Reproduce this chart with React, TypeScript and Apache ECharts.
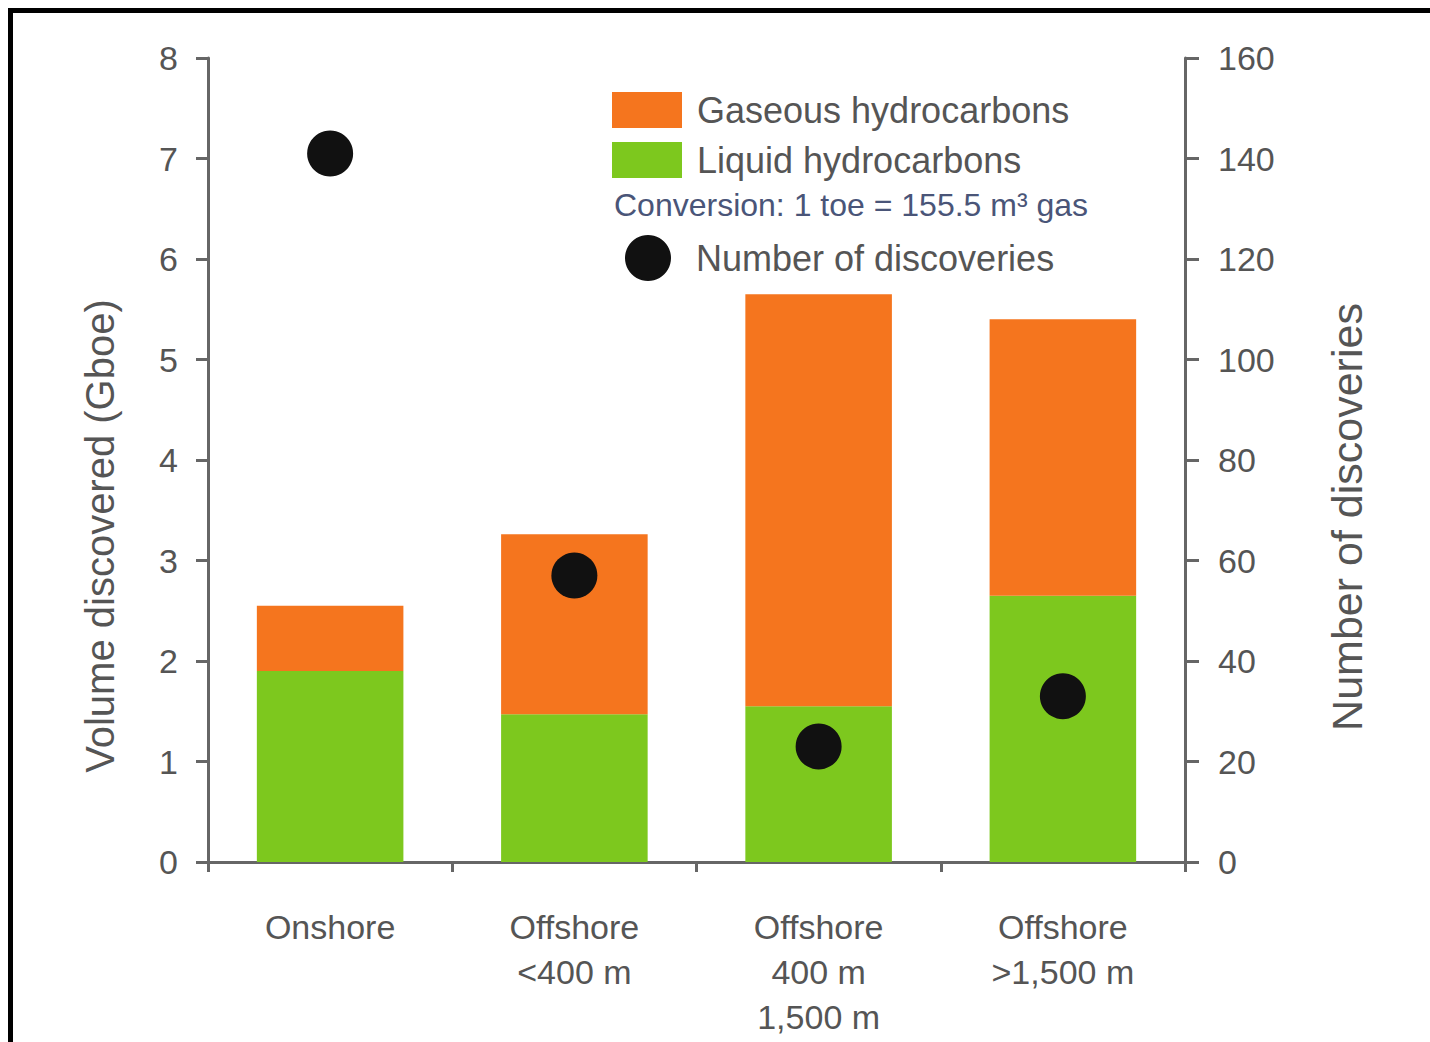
import React, { useEffect, useRef } from "react";
import * as echarts from "echarts";

const categories = ["Onshore", "Offshore\n<400 m", "Offshore\n400 m\n1,500 m", "Offshore\n>1,500 m"];
const liquidValues = [1.9, 1.47, 1.55, 2.65];
const gasValues = [0.65, 1.79, 4.1, 2.75];
const discoveries = [141, 57, 23, 33];
const leftTicks = { min: 0, max: 8, interval: 1 };
const rightTicks = { min: 0, max: 160, interval: 20 };

const FONT = "Liberation Sans, Arial, sans-serif";
const TEXT = "#555";
const AXIS = "#666";

export default function App() {
  const ref = useRef<HTMLDivElement>(null);
  useEffect(() => {
    if (!ref.current) return;
    const chart = echarts.init(ref.current, undefined, { renderer: "svg" });
    chart.setOption({
      animation: false,
      backgroundColor: "#fff",
      textStyle: { fontFamily: FONT },
      graphic: [
        {
          type: "rect",
          shape: { x: 10.5, y: 10.5, width: 1600, height: 1200 },
          style: { fill: "none", stroke: "#000", lineWidth: 5 },
          silent: true,
        },
        {
          type: "text",
          left: 614,
          top: 189,
          style: {
            text: "Conversion: 1 toe = 155.5 m³ gas",
            fontSize: 32,
            fontFamily: FONT,
            fill: "#4a5578",
          },
        },
      ],
      legend: [
        {
          data: ["Gaseous hydrocarbons", "Liquid hydrocarbons"],
          orient: "vertical",
          left: 612,
          top: 92,
          padding: 0,
          itemWidth: 70,
          itemHeight: 36,
          itemGap: 14,
          icon: "rect",
          textStyle: { fontSize: 36, color: TEXT, fontFamily: FONT, padding: [0, 0, 0, 10] },
        },
        {
          data: ["Number of discoveries"],
          left: 625,
          top: 235,
          padding: 0,
          itemWidth: 46,
          itemHeight: 46,
          icon: "circle",
          itemStyle: { opacity: 1 },
          textStyle: { fontSize: 36, color: TEXT, fontFamily: FONT, padding: [0, 0, 0, 20] },
        },
      ],
      grid: { left: 208, right: 245, top: 58, bottom: 180, containLabel: false },
      xAxis: {
        type: "category",
        data: categories,
        axisLine: { lineStyle: { color: AXIS, width: 3 } },
        axisTick: { show: true, length: 10, lineStyle: { color: AXIS, width: 3 } },
        axisLabel: {
          fontSize: 34,
          color: TEXT,
          lineHeight: 45,
          margin: 42,
          fontFamily: FONT,
        },
      },
      yAxis: [
        {
          type: "value",
          ...leftTicks,
          name: "Volume discovered (Gboe)",
          nameLocation: "middle",
          nameGap: 88,
          nameTextStyle: { fontSize: 40, color: TEXT, fontFamily: FONT, padding: [0, 152, 0, 0] },
          axisLine: { show: true, lineStyle: { color: AXIS, width: 3 } },
          axisTick: { show: true, length: 12, lineStyle: { color: AXIS, width: 3 } },
          axisLabel: { fontSize: 34, color: TEXT, margin: 30, fontFamily: FONT },
          splitLine: { show: false },
        },
        {
          type: "value",
          ...rightTicks,
          position: "right",
          name: "Number of discoveries",
          nameLocation: "middle",
          nameGap: 140,
          nameRotate: 90,
          nameTextStyle: { fontSize: 43, color: TEXT, fontFamily: FONT, padding: [0, 114, 0, 0] },
          axisLine: { show: true, lineStyle: { color: AXIS, width: 3 } },
          axisTick: { show: true, length: 14, lineStyle: { color: AXIS, width: 3 } },
          axisLabel: { fontSize: 34, color: TEXT, margin: 33, fontFamily: FONT },
          splitLine: { show: false },
        },
      ],
      series: [
        {
          name: "Liquid hydrocarbons",
          type: "bar",
          stack: "vol",
          data: liquidValues,
          barWidth: "60%",
          itemStyle: { color: "#7dc81e" },
        },
        {
          name: "Gaseous hydrocarbons",
          type: "bar",
          stack: "vol",
          data: gasValues,
          barWidth: "60%",
          itemStyle: { color: "#f5751e" },
        },
        {
          name: "Number of discoveries",
          type: "scatter",
          yAxisIndex: 1,
          data: discoveries,
          symbol: "circle",
          symbolSize: 46,
          itemStyle: { color: "#111", opacity: 1 },
          z: 5,
        },
      ],
    });
    return () => chart.dispose();
  }, []);
  return (
    <div
      ref={ref}
      style={{ position: "absolute", left: 0, top: 0, width: 1430, height: 1042 }}
    />
  );
}
